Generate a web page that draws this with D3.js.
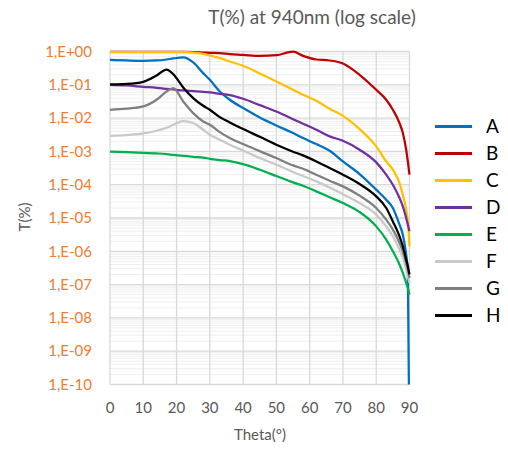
<!DOCTYPE html>
<html><head><meta charset="utf-8">
<script src="https://cdn.jsdelivr.net/npm/d3@7/dist/d3.min.js"></script>
<style>body{margin:0;background:#fff}svg{display:block}</style>
</head><body><svg id="c" width="508" height="450"></svg>
<script>
const theta = [0,5,10,14,17,19,22,25,28,30,33,36,40,45,50,55,58,62,66,70,75,80,83,85,87,88,89,89.5,90];
const seriesNames = ["A","B","C","D","E","F","G","H"];
const seriesColors = ["#0070C0","#C00000","#FFC000","#7030A0","#00B050","#C9C9C9","#7F7F7F","#000000"];
const serA = [0.556,0.537,0.525,0.537,0.575,0.617,0.661,0.468,0.224,0.141,0.0631,0.0355,0.02,0.0105,6.0e-3,3.55e-3,2.51e-3,1.66e-3,1.05e-3,5.0e-4,2.09e-4,7.1e-5,3.55e-5,2.0e-5,6.3e-6,3.16e-6,7.9e-7,2.5e-7,1e-12];
const serB = [0.98,0.98,0.98,0.98,0.98,0.98,0.98,0.966,0.933,0.912,0.891,0.841,0.794,0.733,0.776,0.989,0.741,0.575,0.537,0.437,0.2,0.0708,0.0355,0.0178,7.1e-3,3.55e-3,1.12e-3,5.0e-4,2.0e-4];
const serC = [0.966,0.966,0.966,0.966,0.966,0.966,0.955,0.933,0.851,0.759,0.631,0.501,0.372,0.219,0.126,0.0708,0.0501,0.0331,0.0191,0.0117,4.68e-3,1.41e-3,5.0e-4,2.82e-4,1.12e-4,5.0e-5,1.78e-5,7.9e-6,1.41e-6];
const serD = [0.1,0.0955,0.0871,0.0813,0.0759,0.0724,0.0676,0.0646,0.0617,0.0589,0.0537,0.049,0.038,0.0245,0.0158,9.3e-3,6.8e-3,4.47e-3,2.82e-3,2.09e-3,1.12e-3,4.68e-4,2.0e-4,1.0e-4,3.98e-5,2.24e-5,1.0e-5,6.3e-6,3.98e-6];
const serE = [9.8e-4,9.5e-4,9.1e-4,8.7e-4,8.3e-4,7.9e-4,7.4e-4,6.9e-4,6.5e-4,6.0e-4,5.5e-4,5.1e-4,4.15e-4,2.82e-4,1.82e-4,1.17e-4,9.3e-5,6.3e-5,4.2e-5,2.8e-5,1.51e-5,5.6e-6,2.24e-6,1.0e-6,4.0e-7,2.24e-7,1.12e-7,7.9e-8,5.0e-8];
const serF = [2.95e-3,3.09e-3,3.47e-3,4.17e-3,5.13e-3,6.3e-3,8.1e-3,7.1e-3,4.47e-3,3.16e-3,2.24e-3,1.58e-3,1.07e-3,6.3e-4,4.0e-4,2.4e-4,1.82e-4,1.26e-4,8.3e-5,5.2e-5,2.82e-5,1.26e-5,5.6e-6,2.82e-6,1.12e-6,6.3e-7,2.82e-7,1.78e-7,1.12e-7];
const serG = [0.0178,0.0191,0.0224,0.0355,0.0631,0.0794,0.0316,0.0141,7.9e-3,6.3e-3,3.8e-3,2.51e-3,1.66e-3,1.02e-3,6.3e-4,3.8e-4,3.02e-4,2.0e-4,1.32e-4,8.9e-5,4.68e-5,2.0e-5,8.9e-6,4.47e-6,1.78e-6,1.0e-6,4.47e-7,2.82e-7,1.58e-7];
const serH = [0.1035,0.107,0.123,0.19,0.288,0.209,0.0832,0.0398,0.0234,0.0178,0.0107,7.4e-3,4.68e-3,2.75e-3,1.58e-3,9.8e-4,7.6e-4,5.0e-4,3.16e-4,2.0e-4,1.05e-4,4.47e-5,2.0e-5,7.9e-6,2.82e-6,1.41e-6,5.6e-7,3.55e-7,2.0e-7];
const seriesValues = [serA,serB,serC,serD,serE,serF,serG,serH];
const xTicks = [0,10,20,30,40,50,60,70,80,90];
const yTickValues = [1,1e-1,1e-2,1e-3,1e-4,1e-5,1e-6,1e-7,1e-8,1e-9,1e-10];
const yTickLabels = ["1,E+00","1,E-01","1,E-02","1,E-03","1,E-04","1,E-05","1,E-06","1,E-07","1,E-08","1,E-09","1,E-10"];
const titleText = "T(%) at 940nm (log scale)";
const xTitle = "Theta(°)";
const yTitle = "T(%)";

const FONT = "Lato, 'Open Sans', sans-serif";
const svg = d3.select("#c");
const L = 110, R = 409.5, T = 51.5, B = 384.5;
const x = d3.scaleLinear().domain([0,90]).range([L,R]);
const y = d3.scaleLog().domain([1e-10,1]).range([B,T]);

// minor horizontal grid
const minor = [];
for (let e = -10; e < 0; e++) for (let k = 2; k <= 9; k++) minor.push(k*Math.pow(10,e));
svg.append("g").selectAll("line").data(minor).join("line")
  .attr("x1",L).attr("x2",R).attr("y1",d=>y(d)).attr("y2",d=>y(d))
  .attr("stroke","#EFEFEF").attr("stroke-width",1);
// major horizontal
svg.append("g").selectAll("line").data(yTickValues).join("line")
  .attr("x1",L).attr("x2",R).attr("y1",d=>y(d)).attr("y2",d=>y(d))
  .attr("stroke","#D9D9D9").attr("stroke-width",1.3);
// vertical grid
svg.append("g").selectAll("line").data(xTicks).join("line")
  .attr("x1",d=>x(d)).attr("x2",d=>x(d)).attr("y1",T).attr("y2",B)
  .attr("stroke","#D9D9D9").attr("stroke-width",1.3);

// clip
svg.append("clipPath").attr("id","clip").append("rect")
  .attr("x",L-2).attr("y",T-4).attr("width",R-L+4).attr("height",B-T+4);

const line = d3.line().x(d=>x(d[0])).y(d=>y(d[1])).curve(d3.curveMonotoneX);
const gl = svg.append("g").attr("clip-path","url(#clip)");
seriesValues.forEach((vals,i)=>{
  gl.append("path").datum(theta.map((t,j)=>[t,vals[j]]))
    .attr("d",line).attr("fill","none").attr("stroke",seriesColors[i])
    .attr("stroke-width",2.25).attr("stroke-linejoin","round");
});

// y tick labels
svg.append("g").selectAll("text").data(yTickValues).join("text")
  .attr("x",92).attr("y",d=>y(d)).attr("dy","0.35em").attr("text-anchor","end")
  .attr("fill","#ED7D31").attr("font-family",FONT).attr("font-size",15)
  .text((d,i)=>yTickLabels[i]);
// x tick labels
svg.append("g").selectAll("text").data(xTicks).join("text")
  .attr("x",d=>x(d)).attr("y",408).attr("dy","0.35em").attr("text-anchor","middle")
  .attr("fill","#595959").attr("font-family",FONT).attr("font-size",15)
  .text(d=>d);
// titles
svg.append("text").attr("x",312).attr("y",17).attr("dy","0.35em").attr("text-anchor","middle")
  .attr("fill","#595959").attr("font-family",FONT).attr("font-size",19).text(titleText);
svg.append("text").attr("x",260).attr("y",435).attr("dy","0.35em").attr("text-anchor","middle")
  .attr("fill","#595959").attr("font-family",FONT).attr("font-size",15).text(xTitle);
svg.append("text").attr("transform","translate(25,217) rotate(-90)").attr("dy","0.35em")
  .attr("text-anchor","middle").attr("fill","#595959").attr("font-family",FONT).attr("font-size",15).text(yTitle);

// legend
const lg = svg.append("g");
seriesNames.forEach((n,i)=>{
  const ly = 126.5 + i*27;
  lg.append("line").attr("x1",435).attr("x2",472).attr("y1",ly).attr("y2",ly)
    .attr("stroke",seriesColors[i]).attr("stroke-width",3);
  lg.append("text").attr("x",486).attr("y",ly).attr("dy","0.36em")
    .attr("fill","#000").attr("font-family",FONT).attr("font-size",19).text(n);
});
</script></body></html>
